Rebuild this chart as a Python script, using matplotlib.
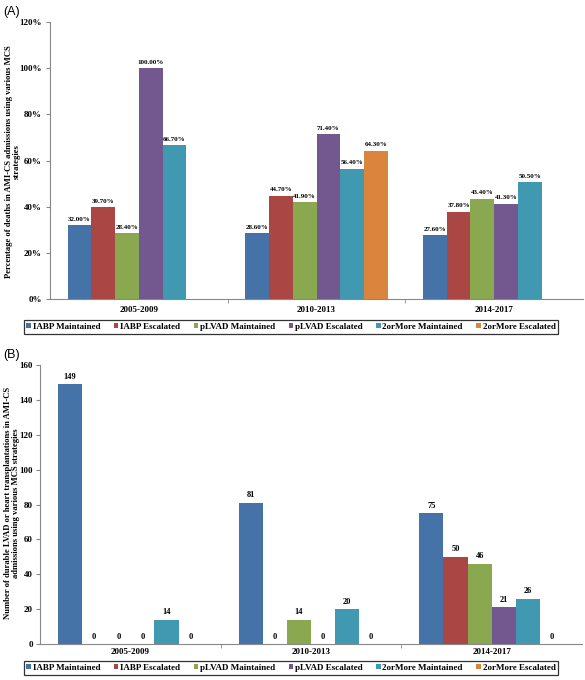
import numpy as np
import matplotlib
matplotlib.use("Agg")
import matplotlib.pyplot as plt
from matplotlib.ticker import FuncFormatter, FixedLocator
from matplotlib.patches import Patch

categories = ["2005-2009", "2010-2013", "2014-2017"]
series = ["IABP Maintained", "IABP Escalated", "pLVAD Maintained",
          "pLVAD Escalated", "2orMore Maintained", "2orMore Escalated"]
colors = ["#4573A8", "#AA4644", "#8AA84F", "#72588F", "#4099B0", "#DB843D"]

# Panel A: percentage of deaths (NaN = no bar)
deaths_iabp_m = [32.0, 28.6, 27.6]
deaths_iabp_e = [39.7, 44.7, 37.8]
deaths_plvad_m = [28.4, 41.9, 43.4]
deaths_plvad_e = [100.0, 71.4, 41.3]
deaths_2m = [66.7, 56.4, 50.5]
deaths_2e = [np.nan, 64.3, np.nan]

# Panel B: number of durable LVAD / heart transplantations
tx_iabp_m = [149, 81, 75]
tx_iabp_e = [0, 0, 50]
tx_plvad_m = [0, 14, 46]
tx_plvad_e = [0, 0, 21]
tx_2m = [14, 20, 26]
tx_2e = [0, 0, 0]

deaths = [deaths_iabp_m, deaths_iabp_e, deaths_plvad_m, deaths_plvad_e, deaths_2m, deaths_2e]
tx = [tx_iabp_m, tx_iabp_e, tx_plvad_m, tx_plvad_e, tx_2m, tx_2e]

plt.rcParams['font.family'] = ['Liberation Serif', 'DejaVu Serif']
plt.rcParams['font.weight'] = 'bold'

W, H = 585, 680
fig = plt.figure(figsize=(W / 100, H / 100), dpi=100)

def px_axes(x0, y0, x1, y1):
    return fig.add_axes([x0 / W, 1 - y1 / H, (x1 - x0) / W, (y1 - y0) / H])

axA = px_axes(50, 22, 583, 299)
axB = px_axes(40, 365, 582, 644)

n = len(series)
bw = 1.0 / (n + 1.5)
x = np.arange(len(categories))

def style(ax, ymax, step, fmt, lblfmt, vals, lblsize, xpad, ypad):
    for i, (s, c, v) in enumerate(zip(series, colors, vals)):
        pos = x - (n - 1) / 2 * bw + i * bw
        v = np.array(v, dtype=float)
        ax.bar(pos, np.nan_to_num(v, nan=0.0), width=bw, color=c, label=s, linewidth=0)
        for p, val in zip(pos, v):
            if np.isnan(val):
                continue
            ax.text(p, val + ymax * 0.012, lblfmt(val), ha='center', va='bottom',
                    fontsize=lblsize, fontweight='bold', color='black')
    ax.set_xlim(-0.5, len(categories) - 0.5)
    ax.set_ylim(0, ymax)
    ax.yaxis.set_major_locator(FixedLocator(np.arange(0, ymax + step / 2, step)))
    ax.yaxis.set_major_formatter(FuncFormatter(fmt))
    ax.set_xticks(x)
    ax.set_xticklabels(categories)
    ax.set_xticks(np.arange(0.5, len(categories) - 0.5, 1.0), minor=True)
    ax.tick_params(axis='x', which='major', length=0, pad=xpad, labelsize=6.5)
    ax.tick_params(axis='x', which='minor', length=3, color='#888888', direction='out')
    ax.tick_params(axis='y', length=3, color='#888888', labelsize=6.5, pad=ypad)
    for t in ax.get_xticklabels() + ax.get_yticklabels():
        t.set_fontweight('bold')
    ax.spines['top'].set_visible(False)
    ax.spines['right'].set_visible(False)
    ax.spines['left'].set_color('#888888')
    ax.spines['bottom'].set_color('#888888')

style(axA, 120, 20, lambda v, p: f"{int(v)}%", lambda v: f"{v:.2f}%", deaths, 5.0, 5, 3)
style(axB, 160, 20, lambda v, p: f"{int(v)}", lambda v: f"{int(v)}", tx, 6.0, 3, 2)

fig.text(13 / W, 1 - 162 / H,
         "Percentage of deaths in AMI-CS admissions using various MCS\nstrategies",
         rotation=90, ha='center', va='center', fontsize=6.2, fontweight='bold',
         linespacing=1.0)
fig.text(12 / W, 1 - 503 / H,
         "Number of durable LVAD or heart transplantations in AMI-CS\nadmissions using various MCS strategies",
         rotation=90, ha='center', va='center', fontsize=6.2, fontweight='bold',
         linespacing=1.0)

handles = [Patch(facecolor=c, edgecolor='none', label=s) for s, c in zip(series, colors)]
for ycenter in (327, 668):
    leg = fig.legend(handles=handles, loc='center', ncol=6,
                     bbox_to_anchor=(291 / W, 1 - ycenter / H),
                     frameon=True, fancybox=False, edgecolor='black',
                     handlelength=0.5, handleheight=0.5,
                     handletextpad=0.2, columnspacing=1.5, borderpad=0.3,
                     prop={'weight': 'bold', 'size': 6.5})
    leg.get_frame().set_linewidth(0.9)

fig.text(3 / W, 1 - 12 / H, "(A)", fontsize=9, family='Liberation Sans', fontweight='normal',
         va='center', ha='left')
fig.text(3 / W, 1 - 355 / H, "(B)", fontsize=9, family='Liberation Sans', fontweight='normal',
         va='center', ha='left')

fig.savefig("out.png", dpi=100, facecolor='white')
